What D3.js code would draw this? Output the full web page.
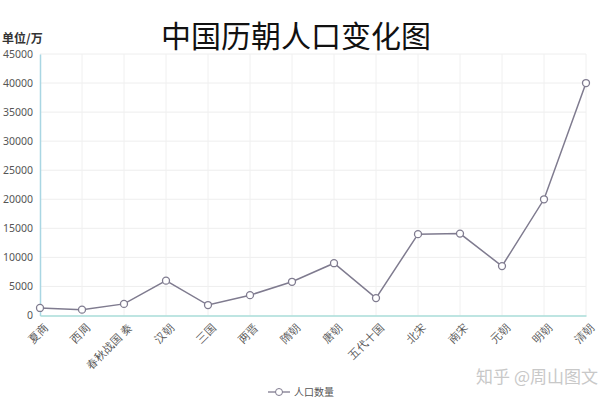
<!DOCTYPE html>
<html><head><meta charset="utf-8">
<script src="https://cdn.jsdelivr.net/npm/d3@7"></script>
<style>body{margin:0;background:#fff;}svg{display:block;font-family:"Noto Sans CJK SC","Noto Sans",sans-serif;}</style>
</head><body><svg id="c" width="600" height="400"></svg>
<script>
const categories = ["夏商","西周","春秋战国 秦","汉朝","三国","两晋","隋朝","唐朝","五代十国","北宋","南宋","元朝","明朝","清朝"];
const population = [1300,1000,2000,6000,1800,3500,5800,9000,3000,14000,14100,8500,20000,40000];
const yTicks = [0,5000,10000,15000,20000,25000,30000,35000,40000,45000];
const title = "中国历朝人口变化图";
const yUnit = "单位/万";
const seriesName = "人口数量";
const watermark = "知乎 @周山图文";

const svg = d3.select("#c");
const pLeft = 40, pRight = 586, pTop = 54, pBottom = 315.5;
const x = d3.scalePoint().domain(categories).range([pLeft, pRight]);
const y = d3.scaleLinear().domain([0,45000]).range([pBottom, pTop]);
const lineColor = "#7f7b8f";

// grid
svg.append("g").selectAll("line").data(yTicks.slice(1)).join("line")
  .attr("x1", pLeft).attr("x2", pRight).attr("y1", d=>y(d)).attr("y2", d=>y(d))
  .attr("stroke", "#eeeeee").attr("stroke-width", 1);
svg.append("g").selectAll("line").data(categories.slice(1)).join("line")
  .attr("x1", d=>x(d)).attr("x2", d=>x(d)).attr("y1", pTop).attr("y2", pBottom)
  .attr("stroke", "#f0f0f0").attr("stroke-width", 1);

// y axis
const ya = svg.append("g").attr("transform", `translate(${pLeft},0)`)
  .call(d3.axisLeft(y).tickValues(yTicks).tickFormat(d3.format("d")).tickSize(0).tickPadding(7));
ya.select(".domain").attr("stroke", "#a9d6e3").attr("stroke-width", 1.5);
ya.selectAll("text").attr("fill", "#555").attr("font-size", 10.5).attr("font-family", "Noto Sans, sans-serif");

// x axis
const xa = svg.append("g").attr("transform", `translate(0,${pBottom})`)
  .call(d3.axisBottom(x).tickSize(0).tickPadding(6));
xa.select(".domain").attr("stroke", "#a8dcd8").attr("stroke-width", 1.5);
xa.selectAll("text").attr("fill", "#555").attr("font-size", 11)
  .attr("text-anchor", "end").attr("dy", "0.35em")
  .attr("transform", "translate(1,6) rotate(-45)");

// line
const data = categories.map((c,i)=>({c, v: population[i]}));
svg.append("path").datum(data)
  .attr("fill","none").attr("stroke", lineColor).attr("stroke-width", 1.5)
  .attr("d", d3.line().x(d=>x(d.c)).y(d=>y(d.v)));
svg.append("g").selectAll("circle").data(data).join("circle")
  .attr("cx", d=>x(d.c)).attr("cy", d=>y(d.v)).attr("r", 3.5)
  .attr("fill", "#fff").attr("stroke", lineColor).attr("stroke-width", 1.3);

// title & unit
svg.append("text").attr("x", 296).attr("y", 47).attr("text-anchor","middle")
  .attr("font-size", 30).attr("fill", "#111").text(title);
svg.append("text").attr("x", 2).attr("y", 43)
  .attr("font-size", 12).attr("font-weight", "bold").attr("fill", "#333").text(yUnit);

// legend
const lg = svg.append("g").attr("transform", "translate(268,392)");
lg.append("line").attr("x1",0).attr("x2",22).attr("y1",0).attr("y2",0).attr("stroke", lineColor).attr("stroke-width",1.3);
lg.append("circle").attr("cx",11).attr("cy",0).attr("r",3.5).attr("fill","#fff").attr("stroke",lineColor);
lg.append("text").attr("x",26).attr("y",0).attr("dy","0.35em").attr("font-size",10).attr("fill","#555").text(seriesName);

// watermark
svg.append("text").attr("x", 598).attr("y", 383).attr("text-anchor","end")
  .attr("font-size", 17).attr("fill", "#c8c8c8").text(watermark);
</script></body></html>
